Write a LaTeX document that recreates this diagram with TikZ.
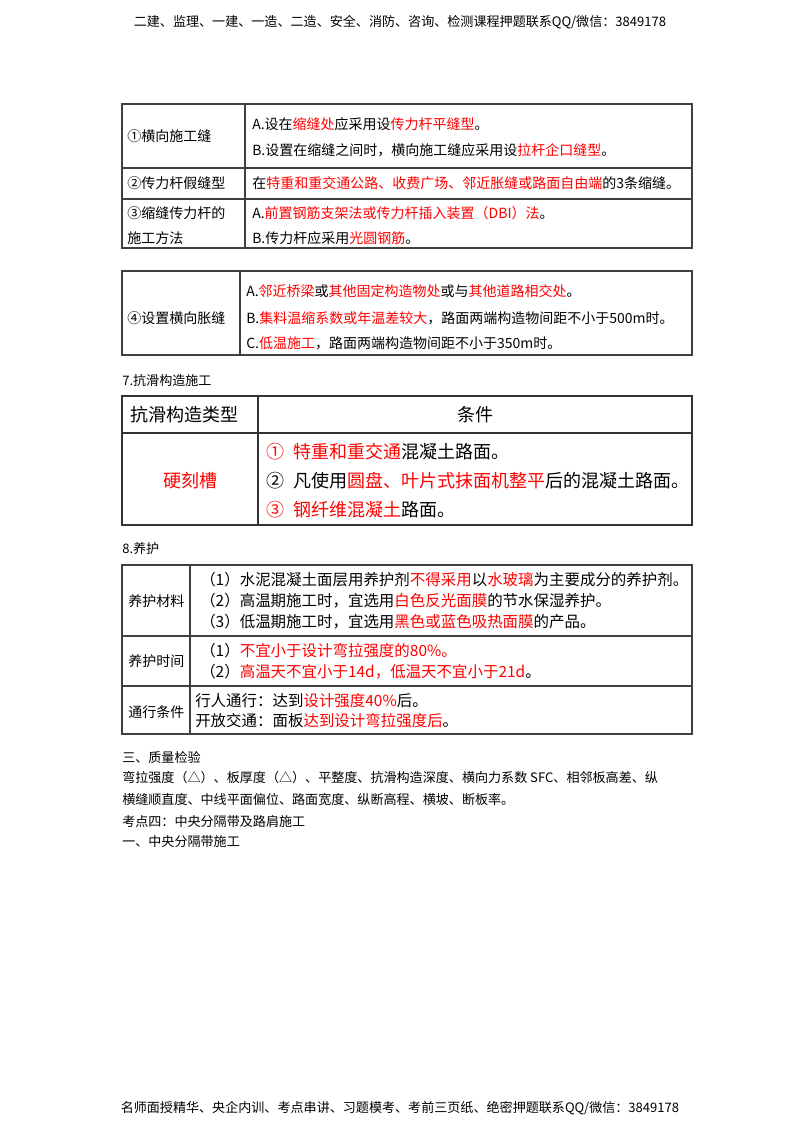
\documentclass[tikz,border=0pt]{standalone}
\usepackage{fontspec}
\setmainfont{Liberation Serif}
\newfontfamily\cjk{Noto Sans CJK SC}
\newcommand{\R}[1]{\textcolor{red}{#1}}
\begin{document}
\begin{tikzpicture}[x=0.75pt,y=-0.75pt,
  t/.style={anchor=west,inner sep=0pt,font=\cjk\fontsize{10.5}{12}\selectfont},
  tf/.style={anchor=west,inner sep=0pt,font=\cjk\fontsize{11.6}{13}\selectfont},
  tb/.style={anchor=west,inner sep=0pt,font=\cjk\fontsize{13.5}{16}\selectfont},
  b/.style={anchor=west,inner sep=0pt,font=\cjk\fontsize{9.8}{12}\selectfont},
  ln/.style={draw=black!75,line width=0.8pt},
  lt/.style={draw=black!80,line width=1.2pt}]
\useasboundingbox (0,0) rectangle (800,1132);
\node[font=\cjk\fontsize{9.8}{12}\selectfont] (hd) at (400,22) {二建、监理、一建、一造、二造、安全、消防、咨询、检测课程押题联系QQ/微信：3849178};
% table 1
\draw[ln] (122,104) rectangle (692,248);
\draw[ln] (245,104) -- (245,248) (122,168) -- (692,168) (122,199) -- (692,199);
\node[t] (a1) at (127,136) {①横向施工缝};
\node[t] (a2) at (252,124) {A.设在\R{缩缝处}应采用设\R{传力杆平缝型}。};
\node[t] (a3) at (252,150) {B.设置在缩缝之间时，横向施工缝应采用设\R{拉杆企口缝型}。};
\node[t] (a4) at (127,183) {②传力杆假缝型};
\node[t] (a5) at (252,183) {在\R{特重和重交通公路、收费广场、邻近胀缝或路面自由端}的3条缩缝。};
\node[t] (a6) at (127,213) {③缩缝传力杆的};
\node[t] (a7) at (127,238) {施工方法};
\node[t] (a8) at (252,213) {A.\R{前置钢筋支架法或传力杆插入装置（DBI）法}。};
\node[t] (a9) at (252,238) {B.传力杆应采用\R{光圆钢筋}。};
% table 2
\draw[ln] (122,271) rectangle (692,355);
\draw[ln] (240,271) -- (240,355);
\node[t] (b1) at (127,318) {④设置横向胀缝};
\node[t] (b2) at (246,291) {A.\R{邻近桥梁}或\R{其他固定构造物处}或与\R{其他道路相交处}。};
\node[t] (b3) at (246,318) {B.\R{集料温缩系数或年温差较大}，路面两端构造物间距不小于500m时。};
\node[t] (b4) at (246,343) {C.\R{低温施工}，路面两端构造物间距不小于350m时。};
\node[b] (s7) at (122,381) {7.抗滑构造施工};
% table 3
\draw[lt] (122,396) rectangle (692,525);
\draw[lt] (258,396) -- (258,525) (122,433) -- (692,433);
\node[tb] (c1) at (130,415) {抗滑构造类型};
\node[tb,anchor=center] (c2) at (475,415) {条件};
\node[tb,anchor=center] (c3) at (190,481) {\R{硬刻槽}};
\node[tb] (c4) at (266,452) {\R{①\enspace 特重和重交通}混凝土路面。};
\node[tb] (c5) at (266,481) {②\enspace 凡使用\R{圆盘、叶片式抹面机整平}后的混凝土路面。};
\node[tb] (c6) at (266,510) {\R{③\enspace 钢纤维混凝土}路面。};
\node[b] (s8) at (122,549) {8.养护};
% table 4
\draw[ln] (122,565) rectangle (692,734);
\draw[ln] (190,565) -- (190,734) (122,636) -- (692,636) (122,686) -- (692,686);
\node[t] (d1) at (128,601) {养护材料};
\node[tf] (d2) at (200,580) {（1）水泥混凝土面层用养护剂\R{不得采用}以\R{水玻璃}为主要成分的养护剂。};
\node[tf] (d3) at (200,601) {（2）高温期施工时，宜选用\R{白色反光面膜}的节水保湿养护。};
\node[tf] (d4) at (200,622) {（3）低温期施工时，宜选用\R{黑色或蓝色吸热面膜}的产品。};
\node[t] (d5) at (128,661) {养护时间};
\node[tf] (d6) at (200,651) {（1）\R{不宜小于设计弯拉强度的80\%。}};
\node[tf] (d7) at (200,672) {（2）\R{高温天不宜小于14d，低温天不宜小于21d}。};
\node[t] (d8) at (128,712) {通行条件};
\node[tf] (d9) at (195,701) {行人通行：达到\R{设计强度40\%}后。};
\node[tf] (d10) at (195,721) {开放交通：面板\R{达到设计弯拉强度后}。};
% body
\node[b] (e1) at (122,757) {三、质量检验};
\node[b] (e2) at (122,778) {弯拉强度（△）、板厚度（△）、平整度、抗滑构造深度、横向力系数 SFC、相邻板高差、纵};
\node[b] (e3) at (122,800) {横缝顺直度、中线平面偏位、路面宽度、纵断高程、横坡、断板率。};
\node[b] (e4) at (122,821) {考点四：中央分隔带及路肩施工};
\node[b] (e5) at (122,842) {一、中央分隔带施工};
\node[font=\cjk\fontsize{9.8}{12}\selectfont] (ft) at (400,1108) {名师面授精华、央企内训、考点串讲、习题模考、考前三页纸、绝密押题联系QQ/微信：3849178};
\end{tikzpicture}
\end{document}
